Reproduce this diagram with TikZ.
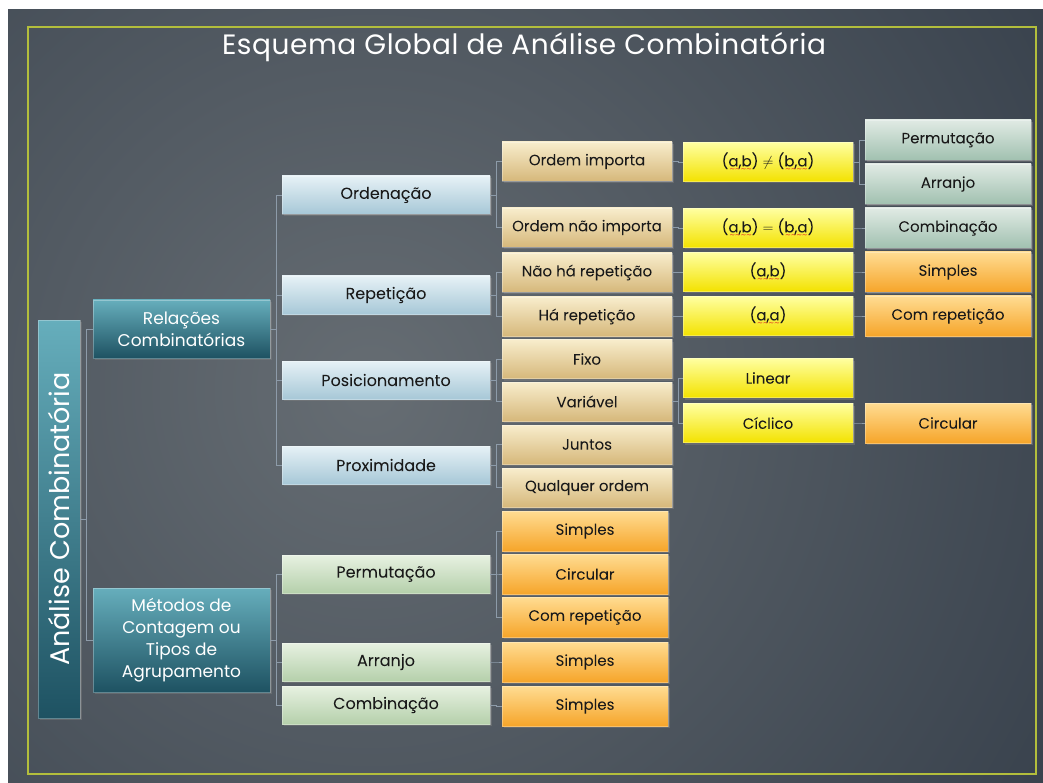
\documentclass[tikz,border=0pt]{standalone}
\usepackage{fontspec}
\setmainfont{Poppins}
\newfontfamily\boxfont{Poppins}[FakeBold=0.5]
\newfontfamily\wavefont{DejaVu Sans}
\usetikzlibrary{shadows}
\definecolor{bgmid}{HTML}{666D73}
\definecolor{bgout}{HTML}{27313E}
\definecolor{framecol}{HTML}{B3BE3C}
\definecolor{linkcol}{HTML}{8D9BA9}
\definecolor{txtdark}{HTML}{1A1A1A}
\definecolor{spellred}{HTML}{E02020}
\definecolor{tealtop}{HTML}{66AEBC}
\definecolor{tealbot}{HTML}{1E5262}
\definecolor{ordtop}{HTML}{E6F1F6}
\definecolor{ordbot}{HTML}{A7C8D7}
\definecolor{mettop}{HTML}{E7F1E1}
\definecolor{metbot}{HTML}{B5D0AB}
\definecolor{optop}{HTML}{F8EDCC}
\definecolor{opbot}{HTML}{D6B87B}
\definecolor{grptop}{HTML}{FFDC92}
\definecolor{grpbot}{HTML}{F6A52A}
\definecolor{partop}{HTML}{FFFFA0}
\definecolor{parbot}{HTML}{F3E200}
\definecolor{tipotop}{HTML}{E0EAE4}
\definecolor{tipobot}{HTML}{A1C1B0}
\tikzstyle{box}=[inner sep=2pt, align=center, text=txtdark, font=\boxfont\fontsize{15}{17}\selectfont,
  draw=white, draw opacity=0.3, line width=0.4pt,
  drop shadow={shadow xshift=1.5pt, shadow yshift=-2pt, opacity=0.45}]
\tikzstyle{relbox}=[box, text=white, top color=tealtop, bottom color=tealbot, minimum width=177pt, font=\fontsize{17}{22}\selectfont]
\tikzstyle{ordbox}=[box, top color=ordtop, bottom color=ordbot, minimum width=208pt, minimum height=38pt, font=\boxfont\fontsize{16}{18}\selectfont]
\tikzstyle{metbox}=[box, top color=mettop, bottom color=metbot, minimum width=208pt, minimum height=38pt, font=\boxfont\fontsize{16}{18}\selectfont]
\tikzstyle{opbox}=[box, top color=optop, bottom color=opbot, minimum width=170pt, minimum height=39pt]
\tikzstyle{grpbox}=[box, top color=grptop, bottom color=grpbot, minimum width=166pt, minimum height=40pt]
\tikzstyle{parbox}=[box, top color=partop, bottom color=parbot, minimum width=170pt, minimum height=39pt]
\tikzstyle{tipobox}=[box, top color=tipotop, bottom color=tipobot, minimum width=166pt, minimum height=40pt]
\tikzstyle{link}=[draw=linkcol, line width=0.6pt]
\newcommand{\branch}[3][6]{\draw[link] (#2) -- ++(#1,0) |- (#3);}
% red spell-check wave under a word
\newcommand{\spell}[1]{\setbox0\hbox{#1}\rlap{\lower5.2pt\hbox to \wd0{\color{spellred}\wavefont\fontsize{7}{7}\selectfont
  \xleaders\hbox{\char"007E\kern-1.1pt}\hfil}}\box0}
\begin{document}
\begin{tikzpicture}[x=1pt,y=-1pt]
\useasboundingbox (0,0) rectangle (1043,783);
% background and frame
\fill[white] (0,0) rectangle (1043,783);
\begin{scope}
	\clip (8,10) rectangle (1043,783);
	\shade[inner color=bgmid, outer color=bgout] (370,390) circle (1100);
\end{scope}
\draw[framecol, line width=1.5pt] (28,27) rectangle (1036,774);
\node[text=white, font=\fontsize{28}{32}\selectfont\addfontfeatures{LetterSpace=2}] (titulo) at (524,47) {Esquema Global de Análise Combinatória};
% root and level 1
\node[relbox, rotate=90, minimum width=398pt, minimum height=42pt, font=\fontsize{27}{29}\selectfont] (analise) at (59,519) {Análise Combinatória};
\node[relbox, minimum height=58pt] (relacoes) at (181.5,329) {Relações\\Combinatórias};
\node[relbox, minimum height=104pt] (metodos) at (181.5,640) {Métodos de\\Contagem ou\\Tipos de\\Agrupamento};
% level 2
\node[ordbox] (ordenacao) at (386,195) {Ordenação};
\node[ordbox] (repeticao) at (386,295) {Repetição};
\node[ordbox] (posic) at (386,380) {Posicionamento};
\node[ordbox] (proxim) at (386,465) {Proximidade};
\node[metbox] (permut) at (386,574) {Permutação};
\node[metbox] (arranjo) at (386,662) {Arranjo};
\node[metbox] (combin) at (386,705) {Combinação};
% level 3
\node[opbox] (ordimp) at (587,161.5) {Ordem importa};
\node[opbox] (ordnimp) at (587,227.5) {Ordem não importa};
\node[opbox] (naorep) at (587,272.5) {Não há repetição};
\node[opbox] (harep) at (587,316.5) {Há repetição};
\node[opbox] (fixo) at (587,359) {Fixo};
\node[opbox] (variavel) at (587,401.5) {Variável};
\node[opbox] (juntos) at (587,444.5) {Juntos};
\node[opbox] (qualquer) at (587,487.5) {Qualquer ordem};
\node[grpbox] (psimples) at (585,531) {Simples};
\node[grpbox] (pcircular) at (585,574) {Circular};
\node[grpbox] (pcomrep) at (585,617) {Com repetição};
\node[grpbox] (asimples) at (585,662) {Simples};
\node[grpbox] (csimples) at (585,706) {Simples};
% level 4
\node[parbox] (difer) at (768,162) {(\spell{a,b}) $\neq$ (\spell{b,a})};
\node[parbox] (igual) at (768,228) {(\spell{a,b}) $=$ (\spell{b,a})};
\node[parbox] (parab) at (768,272) {(\spell{a,b})};
\node[parbox] (paraa) at (768,316) {(\spell{a,a})};
\node[parbox] (linear) at (768,378) {Linear};
\node[parbox] (ciclico) at (768,423) {Cíclico};
% level 5
\node[tipobox] (tperm) at (948,140) {Permutação};
\node[tipobox] (tarr) at (948,184) {Arranjo};
\node[tipobox] (tcomb) at (948,228) {Combinação};
\node[grpbox] (tsimp) at (948,272) {Simples};
\node[grpbox] (tcomrep) at (948,316) {Com repetição};
\node[grpbox] (tcirc) at (948,423) {Circular};
% connectors
\branch{analise.south}{relacoes.west}
\branch{analise.south}{metodos.west}
\foreach \k in {ordenacao,repeticao,posic,proxim} {\branch{relacoes.east}{\k.west}}
\foreach \k in {permut,arranjo,combin} {\branch{metodos.east}{\k.west}}
\branch{ordenacao.east}{ordimp.west}
\branch{ordenacao.east}{ordnimp.west}
\branch{repeticao.east}{naorep.west}
\branch{repeticao.east}{harep.west}
\branch{posic.east}{fixo.west}
\branch{posic.east}{variavel.west}
\branch{proxim.east}{juntos.west}
\branch{proxim.east}{qualquer.west}
\foreach \k in {psimples,pcircular,pcomrep} {\branch{permut.east}{\k.west}}
\branch{arranjo.east}{asimples.west}
\branch{combin.east}{csimples.west}
\branch{ordimp.east}{difer.west}
\branch{ordnimp.east}{igual.west}
\branch{naorep.east}{parab.west}
\branch{harep.east}{paraa.west}
\branch{variavel.east}{linear.west}
\branch{variavel.east}{ciclico.west}
\branch{difer.east}{tperm.west}
\branch{difer.east}{tarr.west}
\branch{igual.east}{tcomb.west}
\branch{parab.east}{tsimp.west}
\branch{paraa.east}{tcomrep.west}
\branch{ciclico.east}{tcirc.west}
\end{tikzpicture}
\end{document}
